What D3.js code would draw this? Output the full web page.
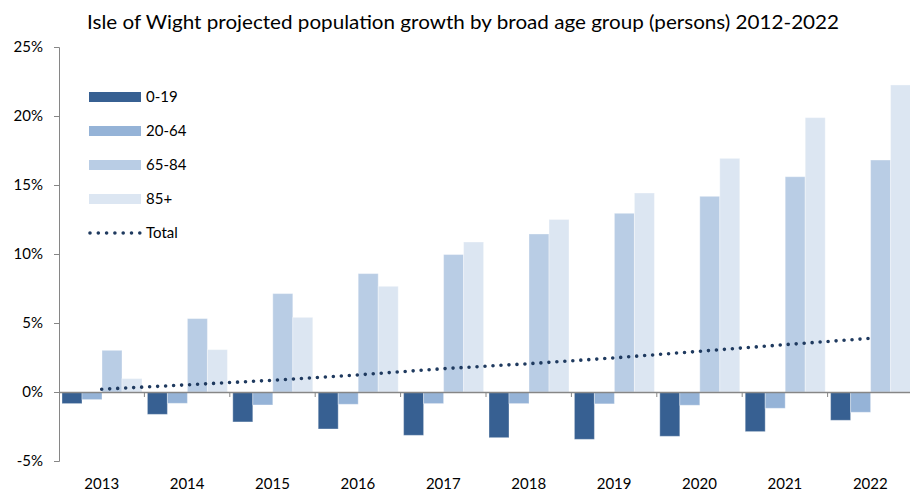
<!DOCTYPE html>
<html>
<head>
<meta charset="utf-8">
<script src="https://cdn.jsdelivr.net/npm/d3@7/dist/d3.min.js"></script>
<style>
  body { margin: 0; background: #fff; }
  text { font-family: Lato, "Open Sans", sans-serif; fill: #000; }
</style>
</head>
<body>
<div id="chart"></div>
<script>
// chart values (percent growth vs 2012)
var years = ["2013", "2014", "2015", "2016", "2017", "2018", "2019", "2020", "2021", "2022"];
var seriesNames = ["0-19", "20-64", "65-84", "85+"];
var age0to19 = [-0.84, -1.62, -2.17, -2.68, -3.14, -3.31, -3.43, -3.21, -2.87, -2.05];
var age20to64 = [-0.55, -0.82, -0.94, -0.89, -0.84, -0.84, -0.86, -0.96, -1.18, -1.47];
var age65to84 = [3.02, 5.32, 7.13, 8.58, 9.96, 11.45, 12.95, 14.18, 15.6, 16.81];
var age85plus = [0.97, 3.07, 5.41, 7.66, 10.87, 12.5, 14.42, 16.93, 19.88, 22.25];
var total = [0.2, 0.52, 0.85, 1.24, 1.69, 2.05, 2.47, 2.95, 3.43, 3.89];
var yTicks = [-5, 0, 5, 10, 15, 20, 25];
var colors = ["#376092", "#95b3d7", "#b9cde5", "#dce6f2"];

var W = 910, H = 492;
var margin = { top: 47, right: -3, bottom: 31, left: 59 },
    width = W - margin.left - margin.right,
    height = H - margin.top - margin.bottom;

var svg = d3.select("#chart")
  .append("svg")
  .attr("width", W)
  .attr("height", H);

svg.append("text")
  .attr("x", 87)
  .attr("y", 29)
  .attr("textLength", 752)
  .attr("lengthAdjust", "spacingAndGlyphs")
  .style("font-size", "20px")
  .text("Isle of Wight projected population growth by broad age group (persons) 2012-2022");

var g = svg.append("g")
  .attr("transform", "translate(" + margin.left + "," + margin.top + ")");

var x = d3.scaleBand()
  .domain(years)
  .range([0, width]);

var xs = d3.scaleBand()
  .domain(seriesNames)
  .range([3, x.bandwidth() - 2.4]);

var y = d3.scaleLinear()
  .domain([-5, 25])
  .range([height, 0]);

var table = years.map(function (yr, i) {
  return {
    year: yr,
    values: [age0to19[i], age20to64[i], age65to84[i], age85plus[i]]
  };
});

// bars
var groups = g.selectAll(".grp")
  .data(table)
  .enter()
  .append("g")
  .attr("transform", function (d) { return "translate(" + x(d.year) + ",0)"; });

groups.selectAll("rect")
  .data(function (d) {
    return d.values.map(function (v, j) { return { key: seriesNames[j], v: v, c: colors[j] }; });
  })
  .enter()
  .append("rect")
  .attr("x", function (d) { return xs(d.key); })
  .attr("width", xs.bandwidth())
  .attr("y", function (d) { return y(Math.max(0, d.v)); })
  .attr("height", function (d) { return Math.abs(y(d.v) - y(0)); })
  .attr("fill", function (d) { return d.c; })
  .attr("stroke", "#ffffff")
  .attr("stroke-opacity", 0.35)
  .attr("stroke-width", 1);

// y axis
var yAxis = g.append("g")
  .call(d3.axisLeft(y).tickValues(yTicks).tickSize(5).tickPadding(11)
    .tickFormat(function (d) { return d + "%"; }));
yAxis.select(".domain").attr("stroke", "#868686");
yAxis.selectAll(".tick line").attr("stroke", "#868686");
yAxis.selectAll("text").style("font-size", "15px").attr("fill", "#000");

// x axis at zero
var xAxis = g.append("g")
  .attr("transform", "translate(0," + y(0) + ")")
  .call(d3.axisBottom(x).tickSize(0).tickSizeOuter(0).tickFormat(""));
xAxis.select(".domain").attr("stroke", "#868686").attr("stroke-width", 1.5);
xAxis.selectAll(".tick").remove();

// ticks between categories
g.selectAll(".xsep")
  .data(years.slice(1))
  .enter()
  .append("line")
  .attr("x1", function (d) { return x(d); })
  .attr("x2", function (d) { return x(d); })
  .attr("y1", y(0))
  .attr("y2", y(0) + 5)
  .attr("stroke", "#868686");

// category labels at the bottom
g.selectAll(".xlab")
  .data(years)
  .enter()
  .append("text")
  .attr("x", function (d) { return x(d) + x.bandwidth() / 2; })
  .attr("y", height + 28)
  .attr("text-anchor", "middle")
  .style("font-size", "15px")
  .text(function (d) { return d; });

// total dotted line
var line = d3.line()
  .x(function (d, i) { return x(years[i]) + x.bandwidth() / 2; })
  .y(function (d) { return y(d); });

g.append("path")
  .datum(total)
  .attr("fill", "none")
  .attr("stroke", "#1f3a5f")
  .attr("stroke-width", 3.6)
  .attr("stroke-linecap", "round")
  .attr("stroke-dasharray", "0,8")
  .attr("d", line);

// legend
var legend = svg.append("g").attr("transform", "translate(89,97)");
var rowGap = 34;
seriesNames.forEach(function (name, i) {
  var row = legend.append("g").attr("transform", "translate(0," + i * rowGap + ")");
  row.append("rect")
    .attr("x", 0).attr("y", -5)
    .attr("width", 52).attr("height", 10)
    .attr("fill", colors[i]);
  row.append("text")
    .attr("x", 57).attr("y", 5)
    .style("font-size", "15px")
    .text(name);
});
var trow = legend.append("g").attr("transform", "translate(0," + 4 * rowGap + ")");
trow.append("line")
  .attr("x1", 1).attr("x2", 52)
  .attr("y1", 0).attr("y2", 0)
  .attr("stroke", "#1f3a5f")
  .attr("stroke-width", 3.6)
  .attr("stroke-linecap", "round")
  .attr("stroke-dasharray", "0,8.3");
trow.append("text")
  .attr("x", 57).attr("y", 5)
  .style("font-size", "15px")
  .text("Total");
</script>
</body>
</html>
